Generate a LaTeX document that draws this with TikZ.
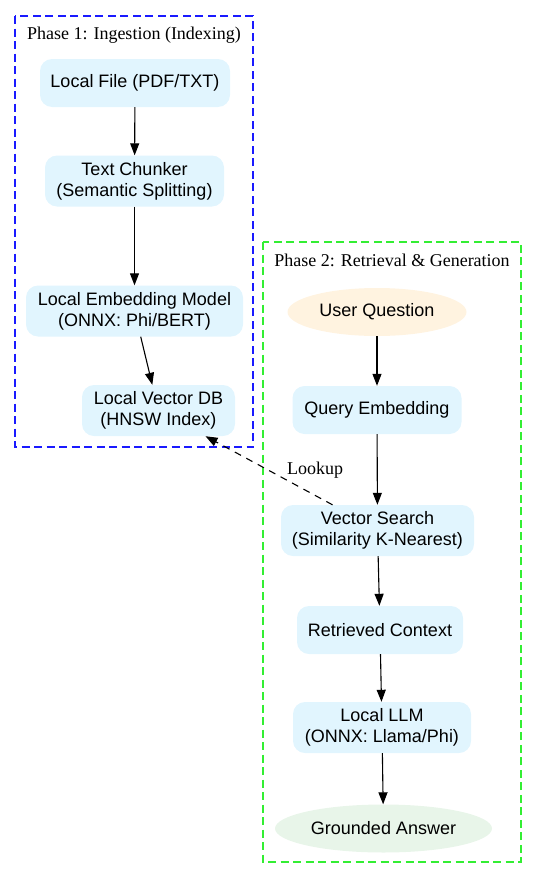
\documentclass[tikz,border=0pt]{standalone}
\usepackage{fontspec}
\setmainfont{Liberation Serif}
\newfontfamily\hv{Liberation Sans}
\usetikzlibrary{arrows.meta,shapes.geometric,calc}
\definecolor{boxblue}{HTML}{E1F5FE}
\definecolor{qorange}{HTML}{FFF3E0}
\definecolor{agreen}{HTML}{E8F5E9}
\definecolor{clblue}{HTML}{1A1AFF}
\definecolor{clgreen}{HTML}{33EE33}
\tikzset{
  proc/.style={rectangle, rounded corners=12pt, fill=boxblue, draw=none, align=center,
    font=\hv\fontsize{18}{21}\selectfont, inner sep=0pt, minimum height=51pt},
  oval/.style={ellipse, draw=none, align=center, font=\hv\fontsize{18}{21}\selectfont,
    inner sep=0pt, minimum height=48pt},
  flow/.style={-{Triangle[length=12pt,width=9pt]}, line width=1.1pt, black},
  cluster/.style={dash pattern=on 8pt off 4.5pt, line width=1.4pt},
  cltitle/.style={font=\fontsize{18}{21}\selectfont, inner sep=0pt},
}
\begin{document}
\begin{tikzpicture}[x=1pt,y=-1pt]
\useasboundingbox (0,0) rectangle (537,878);
% clusters
\draw[cluster, clblue] (15,16) rectangle (253,447);
\draw[cluster, clgreen] (263,242) rectangle (521,862);
\node[cltitle] (t1) at (134,35) {Phase 1: Ingestion (Indexing)};
\node[cltitle] (t2) at (392,260) {Phase 2: Retrieval \& Generation};
% phase 1
\node[proc, minimum width=190pt, minimum height=48pt] (file) at (135,83) {Local File (PDF/TXT)};
\node[proc, minimum width=179pt] (chunk) at (134.5,181) {Text Chunker\\(Semantic Splitting)};
\node[proc, minimum width=217pt] (emb) at (134.5,311) {Local Embedding Model\\(ONNX: Phi/BERT)};
\node[proc, minimum width=153pt] (vdb) at (158.5,410.5) {Local Vector DB\\(HNSW Index)};
% phase 2
\node[oval, fill=qorange, minimum width=179pt] (uq) at (377,312) {User Question};
\node[proc, minimum width=169pt, minimum height=48pt] (qe) at (377,410) {Query Embedding};
\node[proc, minimum width=193pt] (vs) at (377.5,530.5) {Vector Search\\(Similarity K-Nearest)};
\node[proc, minimum width=166pt, minimum height=48pt] (rc) at (380,630) {Retrieved Context};
\node[proc, minimum width=178pt] (llm) at (382,727.5) {Local LLM\\(ONNX: Llama/Phi)};
\node[oval, fill=agreen, minimum width=217pt] (ga) at (383.5,828.5) {Grounded Answer};
% edges
\draw[flow] (file) -- (chunk);
\draw[flow] (chunk) -- (emb);
\draw[flow] (emb) -- (vdb);
\draw[flow] (uq) -- (qe);
\draw[flow] (qe) -- (vs);
\draw[flow] (vs) -- (rc);
\draw[flow] (rc) -- (llm);
\draw[flow] (llm) -- (ga);
\coordinate (lkA) at ($(vs.north)+(-45,0)$);
\coordinate (lkB) at ($(vdb.south)+(47,0)$);
\draw[flow, dash pattern=on 7pt off 6pt] (lkA) -- (lkB);
\node[cltitle, anchor=west] (lk) at (287,470) {Lookup};
\end{tikzpicture}
\end{document}
